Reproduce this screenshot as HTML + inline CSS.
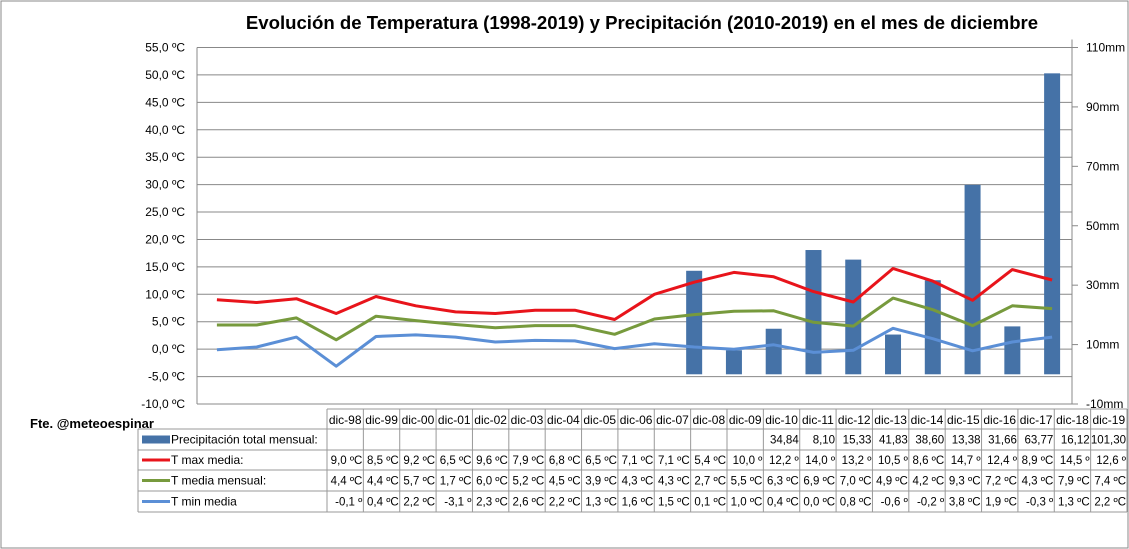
<!DOCTYPE html>
<html><head><meta charset="utf-8"><style>
body{margin:0;background:#fff}
svg{display:block;font-family:"Liberation Sans",sans-serif}
</style></head><body>
<svg id="c" width="1129" height="549" xmlns="http://www.w3.org/2000/svg">
<rect x="1" y="1" width="1127" height="547" fill="#fff" stroke="#888"/>
<text x="642" y="29" text-anchor="middle" font-size="18.6" font-weight="bold" fill="#000">Evolución  de Temperatura  (1998-2019) y Precipitación  (2010-2019) en el mes de diciembre</text>
<text x="30" y="428" font-size="13" font-weight="bold">Fte. @meteoespinar</text>
<g id="grid"></g><g id="bars"></g><g id="lines"></g><g id="axes"></g><g id="table"></g>
</svg>
<script>
const categories=["dic-98","dic-99","dic-00","dic-01","dic-02","dic-03","dic-04","dic-05","dic-06","dic-07","dic-08","dic-09","dic-10","dic-11","dic-12","dic-13","dic-14","dic-15","dic-16","dic-17","dic-18","dic-19"];
const precip=[null,null,null,null,null,null,null,null,null,null,null,null,34.84,8.10,15.33,41.83,38.60,13.38,31.66,63.77,16.12,101.30];
const precipLabels=["","","","","","","","","","","","","34,84","8,10","15,33","41,83","38,60","13,38","31,66","63,77","16,12","101,30"];
const tmax=[9.0,8.5,9.2,6.5,9.6,7.9,6.8,6.5,7.1,7.1,5.4,10.0,12.2,14.0,13.2,10.5,8.6,14.7,12.4,8.9,14.5,12.6];
const tmaxLabels=["9,0 ºC","8,5 ºC","9,2 ºC","6,5 ºC","9,6 ºC","7,9 ºC","6,8 ºC","6,5 ºC","7,1 ºC","7,1 ºC","5,4 ºC","10,0 º","12,2 º","14,0 º","13,2 º","10,5 º","8,6 ºC","14,7 º","12,4 º","8,9 ºC","14,5 º","12,6 º"];
const tmed=[4.4,4.4,5.7,1.7,6.0,5.2,4.5,3.9,4.3,4.3,2.7,5.5,6.3,6.9,7.0,4.9,4.2,9.3,7.2,4.3,7.9,7.4];
const tmedLabels=["4,4 ºC","4,4 ºC","5,7 ºC","1,7 ºC","6,0 ºC","5,2 ºC","4,5 ºC","3,9 ºC","4,3 ºC","4,3 ºC","2,7 ºC","5,5 ºC","6,3 ºC","6,9 ºC","7,0 ºC","4,9 ºC","4,2 ºC","9,3 ºC","7,2 ºC","4,3 ºC","7,9 ºC","7,4 ºC"];
const tmin=[-0.1,0.4,2.2,-3.1,2.3,2.6,2.2,1.3,1.6,1.5,0.1,1.0,0.4,0.0,0.8,-0.6,-0.2,3.8,1.9,-0.3,1.3,2.2];
const tminLabels=["-0,1 º","0,4 ºC","2,2 ºC","-3,1 º","2,3 ºC","2,6 ºC","2,2 ºC","1,3 ºC","1,6 ºC","1,5 ºC","0,1 ºC","1,0 ºC","0,4 ºC","0,0 ºC","0,8 ºC","-0,6 º","-0,2 º","3,8 ºC","1,9 ºC","-0,3 º","1,3 ºC","2,2 ºC"];
const leftTicks=[55,50,45,40,35,30,25,20,15,10,5,0,-5,-10];
const rightTicks=[110,90,70,50,30,10,-10];

const NS="http://www.w3.org/2000/svg";
const X0=197,X1=1072,Y0=47.5,Y1=404;
const bw=(X1-X0)/categories.length;
const xc=i=>X0+bw*(i+0.5);
const yL=v=>Y0+(55-v)/65*(Y1-Y0);
const yR=v=>Y0+(110-v)/120*(Y1-Y0);
const fmt=v=>v.toFixed(1).replace('.',',')+' ºC';
function mk(p,tag,a,txt){const e=document.createElementNS(NS,tag);for(const k in a)e.setAttribute(k,a[k]);if(txt!=null)e.textContent=txt;document.getElementById(p).appendChild(e);return e;}

leftTicks.forEach(v=>{
 const y=yL(v);
 if(v>-10){const g=mk('grid','line',{x1:X0,x2:X1,y1:y,y2:y,stroke:'#888','stroke-width':1});
 
 }
 const t=mk('axes','text',{x:X0-12,y:y+4,'text-anchor':'end','font-size':12},fmt(v));
 
 
});
mk('axes','line',{x1:X0,x2:X0,y1:Y0,y2:Y1,stroke:'#888'});
mk('axes','line',{x1:X0,x2:X1,y1:Y1,y2:Y1,stroke:'#888'});
mk('axes','line',{x1:X1,x2:X1,y1:Y0-8,y2:Y1,stroke:'#888'});
rightTicks.forEach(v=>{
 const y=yR(v);
 mk('axes','line',{x1:X1,x2:X1+6,y1:y,y2:y,stroke:'#888'});
 const t=mk('axes','text',{x:X1+14,y:y+4,'font-size':12},v+'mm');
 
 
});
precip.forEach((v,i)=>{
 if(v==null)return;
 const y=yR(v),y0=yR(0);
 const r=mk('bars','rect',{x:xc(i)-8,y:y,width:16,height:y0-y,fill:'#4572a7'});
 
 
});
[[tmax,'#e8141b','tmax-line'],[tmed,'#779a3d','tmed-line'],[tmin,'#5b8fd6','tmin-line']].forEach(([d,c,n])=>{
 const pts=d.map((v,i)=>xc(i).toFixed(1)+','+yL(v).toFixed(1)).join(' ');
 const p=mk('lines','polyline',{points:pts,fill:'none',stroke:c,'stroke-width':3,'stroke-linejoin':'round'});
 
 
});
const TX0=327,cw=(1127-TX0)/categories.length,LX=138;
const rows=[409,429,450,470,491,512];
const tl=(x1,y1,x2,y2)=>mk('table','line',{x1,y1,x2,y2,stroke:'#999'});
for(let r=0;r<rows.length;r++){tl(r==0?TX0:LX,rows[r],1127,rows[r]);}
tl(LX,rows[1],LX,rows[5]);
for(let i=0;i<=categories.length;i++)tl(TX0+cw*i,rows[0],TX0+cw*i,rows[5]);
categories.forEach((c,i)=>{
 const t=mk('table','text',{x:TX0+cw*i+cw/2,y:rows[0]+15,'text-anchor':'middle','font-size':12},c);
 
 
});
const series=[[precipLabels,'Precipitación total mensual:','#4572a7','bar'],[tmaxLabels,'T max media:','#e8141b','line'],[tmedLabels,'T media mensual:','#779a3d','line'],[tminLabels,'T min media','#5b8fd6','line']];
series.forEach(([labs,name,col,kind],r)=>{
 const ym=(rows[r+1]+rows[r+2])/2;
 if(kind=='bar')mk('table','rect',{x:142,y:ym-4,width:28,height:8,fill:col});
 else mk('table','line',{x1:142,x2:170,y1:ym,y2:ym,stroke:col,'stroke-width':3});
 const t=mk('table','text',{x:171,y:ym+4,'font-size':12},name);
 
 
 labs.forEach((l,i)=>{
  if(!l)return;
  const v=mk('table','text',{x:TX0+cw*i+cw-1,y:ym+4,'text-anchor':'end','font-size':11.5},l);
  
  
 });
});
</script>
</body></html>
